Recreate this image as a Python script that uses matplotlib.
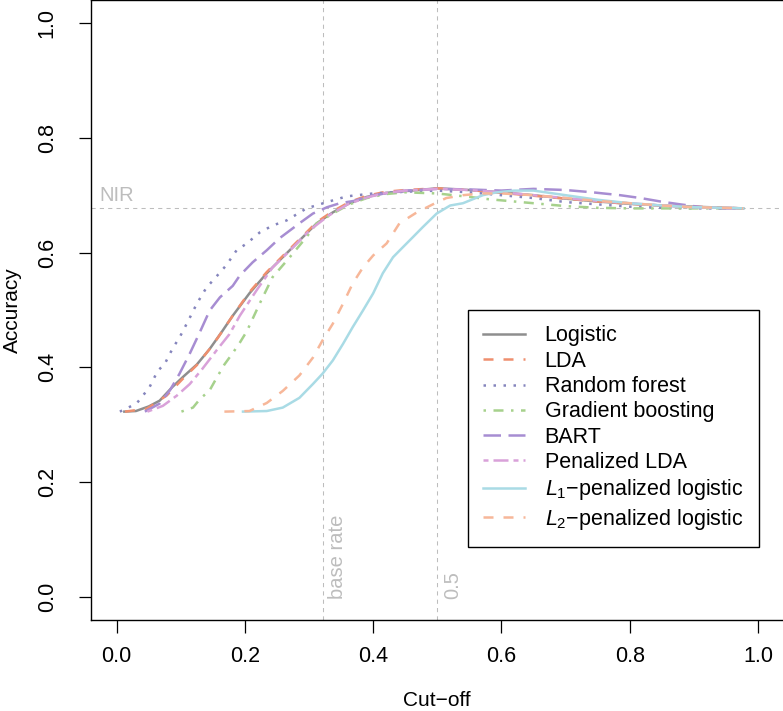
import matplotlib
matplotlib.use("Agg")
import matplotlib.pyplot as plt

plt.rcParams["font.family"] = ["Liberation Sans", "DejaVu Sans"]
plt.rcParams["mathtext.fontset"] = "custom"
plt.rcParams["mathtext.rm"] = "Liberation Sans"
plt.rcParams["mathtext.it"] = "Liberation Sans:italic"

# accuracy vs cut-off
logistic_x = [0.012, 0.03, 0.05, 0.067, 0.087, 0.105, 0.125, 0.145, 0.164, 0.181, 0.207, 0.234,
              0.259, 0.285, 0.312, 0.337, 0.363, 0.39, 0.42, 0.45, 0.5, 0.55, 0.6, 0.65, 0.7,
              0.75, 0.8, 0.85, 0.9, 0.95, 0.977]
logistic_y = [0.323, 0.324, 0.332, 0.342, 0.366, 0.385, 0.405, 0.432, 0.462, 0.49, 0.529, 0.564,
              0.592, 0.621, 0.651, 0.670, 0.686, 0.697, 0.704, 0.707, 0.712, 0.709, 0.705, 0.700,
              0.694, 0.689, 0.685, 0.682, 0.680, 0.678, 0.677]

lda_x = [0.013, 0.047, 0.078, 0.103, 0.125, 0.145, 0.158, 0.181, 0.207, 0.234, 0.259, 0.285,
         0.312, 0.337, 0.363, 0.39, 0.42, 0.45, 0.5, 0.55, 0.6, 0.65, 0.7, 0.75, 0.8, 0.85,
         0.9, 0.95, 0.977]
lda_y = [0.323, 0.328, 0.351, 0.38, 0.404, 0.432, 0.452, 0.49, 0.531, 0.566, 0.594, 0.623,
         0.653, 0.672, 0.688, 0.699, 0.706, 0.709, 0.712, 0.709, 0.704, 0.699, 0.694, 0.689,
         0.685, 0.682, 0.680, 0.678, 0.677]

rf_x = [0.005, 0.031, 0.051, 0.064, 0.075, 0.083, 0.09, 0.098, 0.112, 0.125, 0.14, 0.153,
        0.171, 0.187, 0.203, 0.223, 0.243, 0.265, 0.296, 0.328, 0.359, 0.4, 0.45, 0.5, 0.55,
        0.6, 0.65, 0.7, 0.75, 0.8, 0.85, 0.9, 0.95]
rf_y = [0.323, 0.337, 0.365, 0.394, 0.406, 0.424, 0.438, 0.452, 0.482, 0.511, 0.539, 0.555,
        0.578, 0.604, 0.616, 0.635, 0.647, 0.656, 0.677, 0.688, 0.698, 0.703, 0.706, 0.708,
        0.705, 0.700, 0.695, 0.688, 0.684, 0.680, 0.678, 0.677, 0.677]

gb_x = [0.101, 0.119, 0.13, 0.145, 0.156, 0.168, 0.181, 0.192, 0.203, 0.223, 0.243, 0.27,
        0.296, 0.312, 0.337, 0.363, 0.39, 0.42, 0.45, 0.5, 0.55, 0.58, 0.62, 0.65, 0.7, 0.75,
        0.8, 0.9, 0.977]
gb_y = [0.323, 0.33, 0.345, 0.36, 0.382, 0.405, 0.425, 0.443, 0.463, 0.511, 0.557, 0.592,
        0.627, 0.651, 0.668, 0.684, 0.695, 0.702, 0.705, 0.703, 0.697, 0.693, 0.689, 0.686,
        0.681, 0.678, 0.677, 0.677, 0.677]

bart_x = [0.044, 0.067, 0.083, 0.098, 0.114, 0.13, 0.145, 0.161, 0.181, 0.192, 0.212, 0.234,
          0.254, 0.285, 0.306, 0.328, 0.348, 0.37, 0.4, 0.45, 0.5, 0.55, 0.6, 0.65, 0.7, 0.742,
          0.785, 0.817, 0.848, 0.879, 0.92, 0.95, 0.977]
bart_y = [0.323, 0.337, 0.36, 0.389, 0.424, 0.462, 0.499, 0.522, 0.542, 0.56, 0.583, 0.604,
          0.625, 0.651, 0.668, 0.679, 0.686, 0.69, 0.700, 0.708, 0.711, 0.710, 0.708, 0.711,
          0.709, 0.705, 0.700, 0.695, 0.689, 0.684, 0.678, 0.677, 0.677]

plda_x = [0.048, 0.072, 0.094, 0.114, 0.134, 0.156, 0.176, 0.192, 0.218, 0.243, 0.275, 0.301,
          0.33, 0.36, 0.39, 0.42, 0.45, 0.5, 0.55, 0.6, 0.65, 0.7, 0.75, 0.8, 0.85, 0.9, 0.95,
          0.977]
plda_y = [0.323, 0.333, 0.351, 0.371, 0.398, 0.43, 0.458, 0.49, 0.534, 0.574, 0.609, 0.639,
          0.664, 0.684, 0.696, 0.704, 0.708, 0.711, 0.709, 0.705, 0.700, 0.695, 0.690, 0.686,
          0.682, 0.679, 0.678, 0.677]

l1_x = [0.197, 0.234, 0.259, 0.285, 0.306, 0.321, 0.337, 0.353, 0.368, 0.384, 0.40, 0.415,
        0.431, 0.446, 0.462, 0.477, 0.499, 0.52, 0.54, 0.571, 0.593, 0.62, 0.65, 0.7, 0.75,
        0.8, 0.85, 0.9, 0.95, 0.977]
l1_y = [0.323, 0.324, 0.33, 0.347, 0.371, 0.389, 0.412, 0.441, 0.47, 0.499, 0.529, 0.564,
        0.592, 0.609, 0.627, 0.644, 0.668, 0.682, 0.686, 0.700, 0.705, 0.708, 0.708, 0.700,
        0.692, 0.686, 0.682, 0.679, 0.678, 0.677]

l2_x = [0.168, 0.207, 0.234, 0.259, 0.285, 0.306, 0.321, 0.337, 0.353, 0.368, 0.384, 0.40,
        0.421, 0.441, 0.468, 0.493, 0.514, 0.54, 0.57, 0.6, 0.65, 0.7, 0.75, 0.8, 0.85, 0.9,
        0.95, 0.977]
l2_y = [0.323, 0.324, 0.338, 0.359, 0.386, 0.417, 0.447, 0.476, 0.511, 0.546, 0.574, 0.595,
        0.616, 0.651, 0.670, 0.684, 0.695, 0.700, 0.703, 0.703, 0.700, 0.695, 0.690, 0.686,
        0.682, 0.679, 0.678, 0.677]

base_rate = 0.321
nir = 0.677

series = [
    ("Logistic", logistic_x, logistic_y, "#8e8e8e", "-"),
    ("LDA", lda_x, lda_y, "#ef8f6e", (0, (4, 4))),
    ("Random forest", rf_x, rf_y, "#8585bd", (0, (1, 3))),
    ("Gradient boosting", gb_x, gb_y, "#a6d18c", (0, (1, 3, 4, 3))),
    ("BART", bart_x, bart_y, "#a78dd2", (0, (7, 3))),
    ("Penalized LDA", plda_x, plda_y, "#d9a1d9", (0, (2, 2, 6, 2))),
    ("$L_1$\u2212penalized logistic", l1_x, l1_y, "#a9dbe5", "-"),
    ("$L_2$\u2212penalized logistic", l2_x, l2_y, "#f7b799", (0, (4, 4))),
]

fig = plt.figure(figsize=(7.83, 7.11), dpi=100)
ax = fig.add_axes([91 / 783, 91 / 711, 692.6 / 783, 620 / 711])

grey = "#bdbdbd"
ax.axvline(base_rate, color=grey, lw=0.75, ls=(0, (4, 4)))
ax.axvline(0.5, color=grey, lw=0.75, ls=(0, (4, 4)))
ax.axhline(nir, color=grey, lw=0.75, ls=(0, (4, 4)))
ax.text(-0.027, nir + 0.006, "NIR", color=grey, fontsize=14.5, ha="left", va="bottom")
ax.text(base_rate + 0.024, -0.004, "base rate", color=grey, fontsize=14.5,
        rotation=90, ha="center", va="bottom")
ax.text(0.5 + 0.024, -0.004, "0.5", color=grey, fontsize=14.5,
        rotation=90, ha="center", va="bottom")

for name, xs, ys, col, ls in series:
    ax.plot(xs, ys, color=col, ls=ls, lw=1.8, label=name)

ax.set_xlim(-0.04, 1.04)
ax.set_ylim(-0.04, 1.04)
ticks = [0.0, 0.2, 0.4, 0.6, 0.8, 1.0]
ax.set_xticks(ticks)
ax.set_yticks(ticks)
ax.set_xticklabels([f"{t:.1f}" for t in ticks])
ax.set_yticklabels([f"{t:.1f}" for t in ticks])
ax.tick_params(length=9, width=0.9, labelsize=15.5)
ax.tick_params(axis="x", pad=10)
ax.tick_params(axis="y", pad=15)
for lab in ax.get_yticklabels():
    lab.set_rotation(90)
    lab.set_va("center")
for s in ax.spines.values():
    s.set_linewidth(1.0)

fig.text(437 / 783, 1 - 700 / 711, "Cut\u2212off", fontsize=15, ha="center", va="center")
fig.text(12 / 783, 1 - 310 / 711, "Accuracy", fontsize=15, ha="center", va="center",
         rotation=90)

leg = ax.legend(loc="upper left", bbox_to_anchor=(0.544, 0.5), borderaxespad=0,
                fontsize=15.5, handlelength=1.95, handletextpad=0.9, labelspacing=0.2,
                borderpad=0.72, fancybox=False, framealpha=1, edgecolor="black")
leg.get_frame().set_linewidth(1.0)

fig.savefig("out.png", dpi=100)
